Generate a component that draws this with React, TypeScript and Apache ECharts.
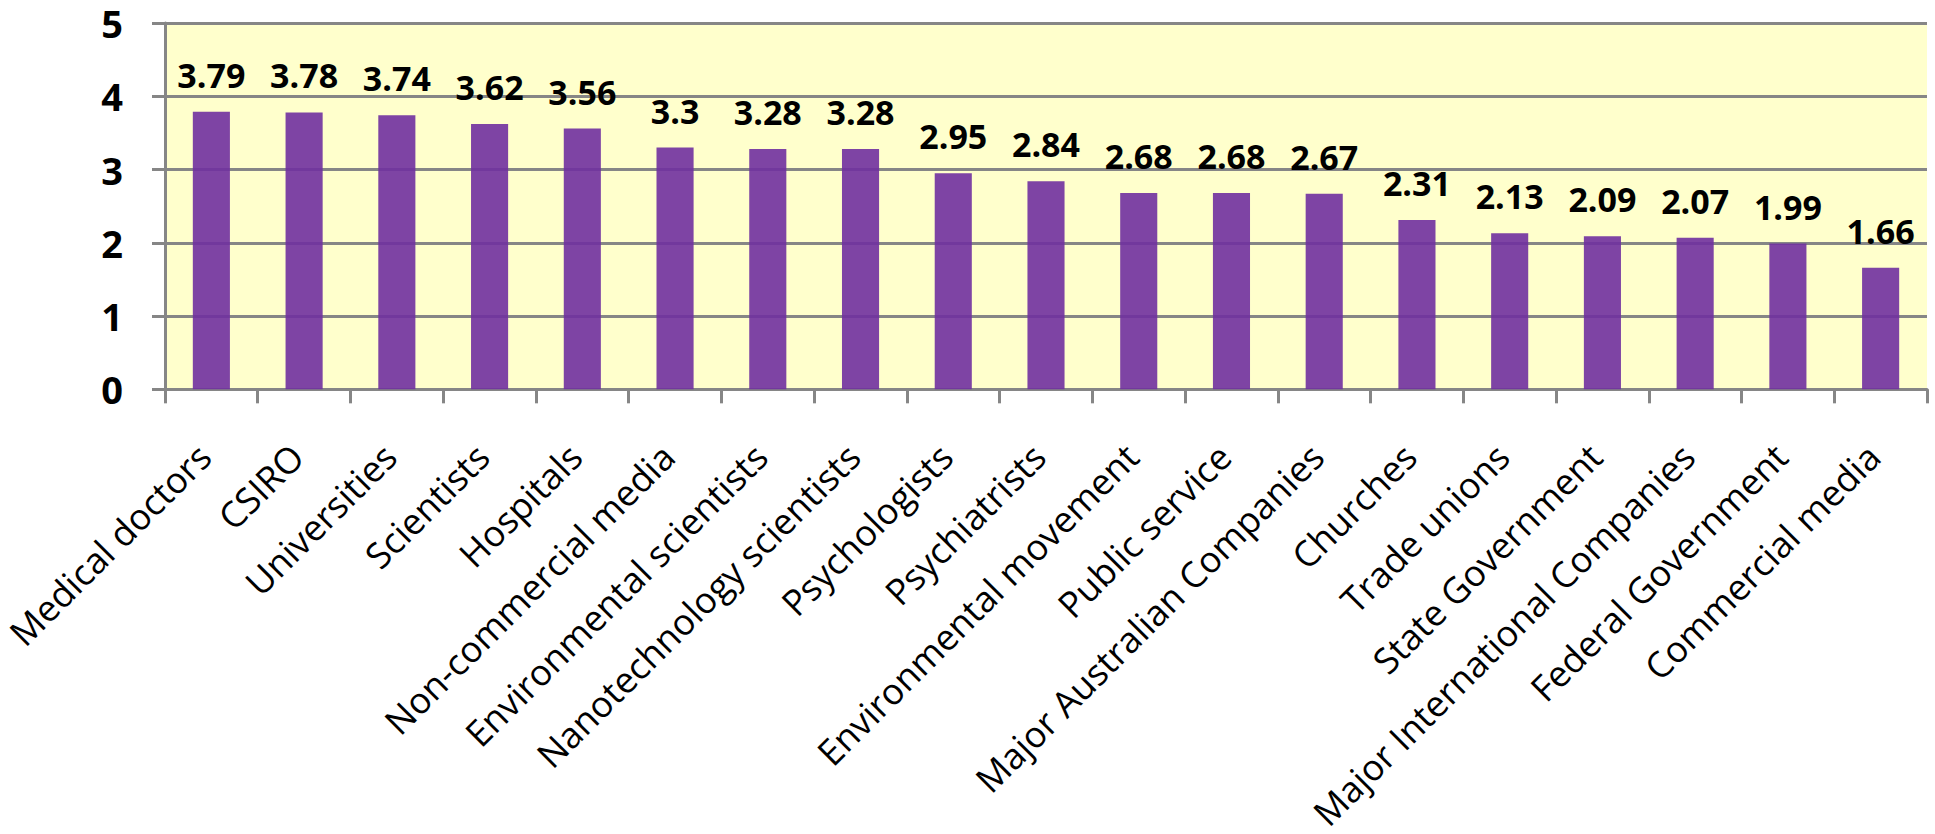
import React, { useEffect, useRef } from "react";
import * as echarts from "echarts";

const categories: string[] = [
  "Medical doctors",
  "CSIRO",
  "Universities",
  "Scientists",
  "Hospitals",
  "Non-commercial media",
  "Environmental scientists",
  "Nanotechnology scientists",
  "Psychologists",
  "Psychiatrists",
  "Environmental movement",
  "Public service",
  "Major Australian Companies",
  "Churches",
  "Trade unions",
  "State Government",
  "Major International Companies",
  "Federal Government",
  "Commercial media",
];

const trustValues: number[] = [
  3.79, 3.78, 3.74, 3.62, 3.56, 3.3, 3.28, 3.28, 2.95, 2.84, 2.68, 2.68, 2.67,
  2.31, 2.13, 2.09, 2.07, 1.99, 1.66,
];

const yMin = 0;
const yMax = 5;
const yInterval = 1;

export default function App() {
  const ref = useRef<HTMLDivElement>(null);

  useEffect(() => {
    if (!ref.current) return;
    const chart = echarts.init(ref.current, undefined, { renderer: "svg" });
    const font = "'Open Sans', 'DejaVu Sans', sans-serif";
    chart.setOption({
      animation: false,
      backgroundColor: "#ffffff",
      grid: {
        left: 165,
        right: 8,
        top: 23,
        bottom: 438,
        containLabel: false,
        show: true,
        backgroundColor: "#FFFFCC",
        borderWidth: 0,
      },
      xAxis: {
        type: "category",
        data: categories,
        boundaryGap: true,
        axisLine: { show: true, lineStyle: { color: "#868686", width: 3 } },
        axisTick: {
          show: true,
          alignWithLabel: false,
          length: 14,
          lineStyle: { color: "#868686", width: 3 },
        },
        axisLabel: {
          interval: 0,
          rotate: 45,
          margin: 54,
          padding: [0, 10, 0, 0],
          color: "#000000",
          fontFamily: font,
          fontSize: 36,
        },
        splitLine: { show: false },
      },
      yAxis: {
        type: "value",
        min: yMin,
        max: yMax,
        interval: yInterval,
        axisLine: { show: true, lineStyle: { color: "#868686", width: 3 } },
        axisTick: {
          show: true,
          length: 13,
          lineStyle: { color: "#868686", width: 3 },
        },
        axisLabel: {
          margin: 42,
          color: "#000000",
          fontFamily: font,
          fontWeight: "bold",
          fontSize: 38,
        },
        splitLine: { show: true, lineStyle: { color: "#868686", width: 3 } },
      },
      series: [
        {
          type: "bar",
          data: trustValues,
          barWidth: "40%",
          itemStyle: { color: "rgba(112,48,160,0.9)" },
          z: 3,
          label: {
            show: true,
            position: "top",
            distance: 20,
            color: "#000000",
            fontFamily: font,
            fontWeight: "bold",
            fontSize: 34,
          },
        },
      ],
    });
    return () => chart.dispose();
  }, []);

  return (
    <div
      ref={ref}
      style={{ position: "absolute", left: 0, top: 0, width: 1935, height: 834 }}
    />
  );
}
